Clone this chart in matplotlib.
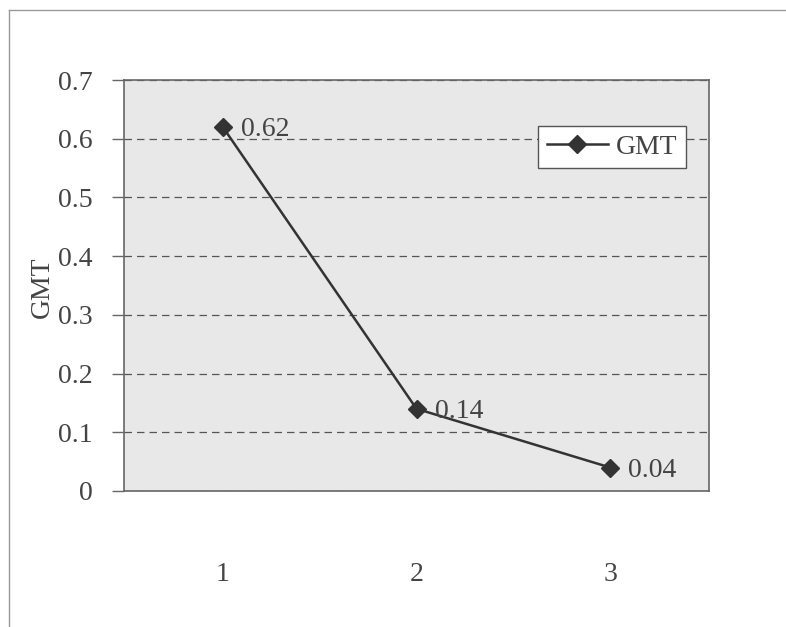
import matplotlib
matplotlib.use("Agg")
import matplotlib.pyplot as plt
from matplotlib.lines import Line2D

categories = [1, 2, 3]
gmt_values = [0.62, 0.14, 0.04]
y_ticks = [0, 0.1, 0.2, 0.3, 0.4, 0.5, 0.6, 0.7]
y_tick_labels = ["0", "0.1", "0.2", "0.3", "0.4", "0.5", "0.6", "0.7"]
series_name = "GMT"
y_label = "GMT"

plt.rcParams['font.family'] = ['Liberation Serif', 'DejaVu Serif']
W, H = 786, 627
FS = 20
fig = plt.figure(figsize=(W / 100, H / 100), dpi=100)
fig.patch.set_facecolor('white')

ax = fig.add_axes([124 / W, 1 - 491 / H, (709 - 124) / W, (491 - 80) / H])
ax.set_facecolor('#e8e8e8')

ax.plot(categories, gmt_values, color='#333333', lw=1.8, marker='D',
        markersize=9, markerfacecolor='#333333', markeredgecolor='#333333',
        label=series_name, zorder=3)

for x, v in zip(categories, gmt_values):
    ax.annotate(f"{v:.2f}", (x, v), xytext=(13, -2), textcoords='offset points',
                ha='left', va='center', fontsize=FS, color='#444444')

ax.set_xlim(0.49, 3.51)
ax.set_ylim(0, 0.7)
ax.set_yticks(y_ticks)
ax.set_yticklabels(y_tick_labels)
ax.set_xticks(categories)
ax.set_xticklabels([str(c) for c in categories])

ax.yaxis.grid(True, linestyle=(0, (6, 4)), color='#555555', lw=0.9)
ax.set_axisbelow(True)

for s in ax.spines.values():
    s.set_color('#666666')
    s.set_linewidth(1.2)

ax.tick_params(axis='y', direction='out', length=8.6, width=1.0, color='#666666',
               pad=14, labelsize=FS, labelcolor='#444444')
ax.tick_params(axis='x', length=0, pad=51, labelsize=FS, labelcolor='#444444')

fig.text(42 / W, 1 - 287 / H, y_label, rotation=90, ha='center', va='center',
         fontsize=FS, color='#444444')

leg = ax.legend(loc='upper right', bbox_to_anchor=((686 - 124) / 585, (491 - 126) / 411),
                borderaxespad=0, fontsize=FS, frameon=True, fancybox=False,
                handlelength=2.2, handletextpad=0.3, borderpad=0.3,
                labelcolor='#444444')
leg.get_frame().set_edgecolor('#555555')
leg.get_frame().set_facecolor('white')
leg.get_frame().set_alpha(1)
leg.get_frame().set_linewidth(1.0)

# outer chart-area border (top and left visible)
fig.add_artist(Line2D([9 / W, 1], [1 - 10 / H, 1 - 10 / H], color='#999999', lw=1.0))
fig.add_artist(Line2D([9 / W, 9 / W], [0, 1 - 10 / H], color='#999999', lw=1.0))

fig.savefig("out.png", dpi=100)
